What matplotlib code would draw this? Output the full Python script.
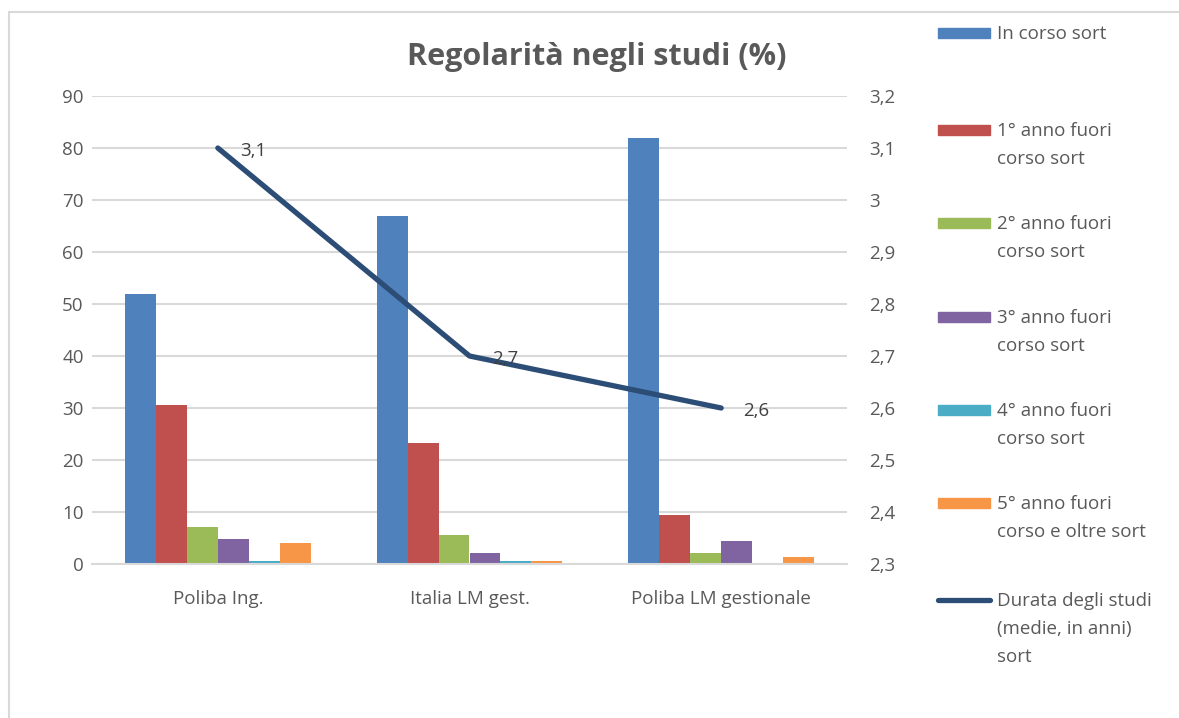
import matplotlib.pyplot as plt
import numpy as np
from matplotlib.patches import Rectangle
from matplotlib.lines import Line2D

# data
categories = ["Poliba Ing.", "Italia LM gest.", "Poliba LM gestionale"]
series_labels = ["In corso sort", "1° anno fuori\ncorso sort", "2° anno fuori\ncorso sort",
                 "3° anno fuori\ncorso sort", "4° anno fuori\ncorso sort",
                 "5° anno fuori\ncorso e oltre sort"]
in_corso = [52, 67, 82]
fc1 = [30.6, 23.3, 9.4]
fc2 = [7.1, 5.6, 2.1]
fc3 = [4.8, 2.1, 4.4]
fc4 = [0.6, 0.6, 0]
fc5 = [4.1, 0.6, 1.3]
durata = [3.1, 2.7, 2.6]
durata_label = "Durata degli studi\n(medie, in anni)\nsort"

colors = ["#4f81bd", "#c0504d", "#9bbb59", "#8064a2", "#4bacc6", "#f79646"]
line_color = "#2c4d75"
text_color = "#595959"
grid_color = "#d9d9d9"
fs = 13.5

plt.rcParams['font.family'] = ['Open Sans', 'DejaVu Sans']

fig = plt.figure(figsize=(11.79, 7.18), dpi=100)
W, H = 1179, 718
ax = fig.add_axes([92 / W, 1 - 564 / H, (847 - 92) / W, (564 - 96) / H])

x = np.arange(len(categories))
series = [in_corso, fc1, fc2, fc3, fc4, fc5]
bw = 0.123
for i, vals in enumerate(series):
    ax.bar(x + (i - 2.5) * bw, vals, bw, color=colors[i], zorder=2)

ax.set_xlim(-0.5, 2.5)
ax.set_ylim(0, 90)
ax.set_yticks(range(0, 91, 10))
ax.set_xticks(x)
ax.set_xticklabels(categories)
ax.grid(axis='y', color=grid_color, linewidth=1.5, zorder=0)
ax.tick_params(length=0, labelsize=fs, colors=text_color)
ax.tick_params(axis='y', pad=6)
ax.tick_params(axis='x', pad=19)
for s in ['top', 'right', 'left']:
    ax.spines[s].set_visible(False)
ax.spines['bottom'].set_color(grid_color)
ax.spines['bottom'].set_linewidth(1.5)

ax2 = ax.twinx()
ax2.plot(x, durata, color=line_color, linewidth=3.8, solid_capstyle='round', zorder=3)
ax2.set_ylim(2.3, 3.2)
yt = np.round(np.arange(2.3, 3.21, 0.1), 1)
ax2.set_yticks(yt)
ax2.set_yticklabels([('%g' % v).replace('.', ',') for v in yt])
ax2.tick_params(length=0, labelsize=fs, colors=text_color, pad=16)
for s in ax2.spines.values():
    s.set_visible(False)
for xi, v in zip(x, durata):
    ax2.annotate(('%g' % v).replace('.', ','), (xi, v), xytext=(16, -2),
                 textcoords='offset points', va='center', ha='left',
                 fontsize=fs, color='#404040')

fig.text(597 / W, 1 - 57 / H, "Regolarità negli studi (%)", ha='center', va='center',
         fontsize=22, fontweight='bold', color=text_color)

# legend drawn by hand to keep keys aligned with first text line
ys = [33, 130, 223, 317, 410, 503, 600]
for i, lab in enumerate(series_labels):
    y = ys[i]
    fig.add_artist(Rectangle((938 / W, 1 - (y + 5) / H), 52 / W, 10 / H,
                             transform=fig.transFigure, color=colors[i]))
    fig.text(997 / W, 1 - (y - 8) / H, lab, ha='left', va='top', fontsize=fs,
             color=text_color, linespacing=1.7)
y = ys[6]
fig.add_artist(Line2D([938 / W, 990 / W], [1 - y / H, 1 - y / H], transform=fig.transFigure,
                      color=line_color, linewidth=3.8, solid_capstyle='round'))
fig.text(997 / W, 1 - (y - 8) / H, durata_label, ha='left', va='top', fontsize=fs,
         color=text_color, linespacing=1.7)

# chart border
fig.add_artist(Rectangle((9 / W, -0.05), 1.2, 1 - 12 / H + 0.05, transform=fig.transFigure,
                         fill=False, edgecolor=grid_color, linewidth=1.5))

fig.savefig("out.png", dpi=100)
